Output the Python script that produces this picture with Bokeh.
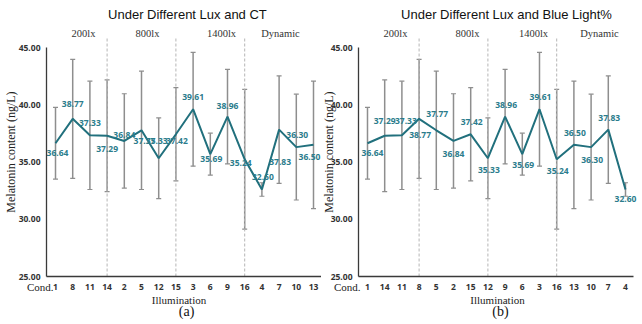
import math
from bokeh.plotting import figure
from bokeh.models import ColumnDataSource, Whisker, TeeHead, FixedTicker, NumeralTickFormatter, LinearAxis
from bokeh.layouts import row
from bokeh.embed import file_html
from bokeh.resources import INLINE
from bokeh.core.properties import value

# ---------------- data ----------------
# mean melatonin content and SD, indexed by condition number 1..16
cond_numbers = list(range(1, 17))
mean_by_cond = [36.64, 36.84, 39.61, 32.60, 37.77, 35.69, 37.83, 38.77,
                38.96, 36.30, 37.33, 35.33, 36.50, 37.29, 37.42, 35.24]
sd_by_cond = [3.13, 4.12, 4.97, 0.59, 5.17, 1.83, 4.69, 5.20,
              4.13, 4.62, 4.73, 3.52, 5.57, 4.88, 4.07, 6.11]
order_a = [1, 8, 11, 14, 2, 5, 12, 15, 3, 6, 9, 16, 4, 7, 10, 13]
order_b = [1, 14, 11, 8, 5, 2, 15, 12, 9, 6, 3, 16, 13, 10, 7, 4]
group_labels = ["200lx", "800lx", "1400lx", "Dynamic"]
group_breaks = [4, 8, 12]
y_ticks = [25, 30, 35, 40, 45]

# ---------------- styling / layout ----------------
LINE_C = "#21707d"
LAB_C = "#2b7c8c"
ERR_C = "#8e8e8e"
AXIS_C = "#3a3a3a"
H = 322
Y0, Y1 = 20.983, 49.105
SERIF = value("Liberation Serif")

# label offsets (screen px) per plotted position
dy_a = [10, -15, -12, 13, -6, 11, -17, 7, -12, 5, -11, 4, -12, 32, -12, 12]
dx_a = [2, 0, 0, 0, 0, 3, -2, 1, 0, 1, 0, -4, 1, 1, 1, -4]
dy_b = [10, -15, -14, 16, -16, 13, -12, 12, -12, 11, -12, 12, -12, 13, -12, 10]
dx_b = [5, 0, 4, 1, 1, 0, 1, 1, 1, 1, 1, 1, 1, 1, 1, 0]


def make_panel(order, title, tag, x_start, x_end, width, dy, dx,
               group_x, title_x, illum_x, tag_x, cond_x, ylab_x):
    pos = list(range(1, len(order) + 1))
    means = [mean_by_cond[c - 1] for c in order]
    sds = [sd_by_cond[c - 1] for c in order]
    src = ColumnDataSource(dict(
        x=pos, y=means,
        up=[m + s for m, s in zip(means, sds)],
        lo=[m - s for m, s in zip(means, sds)],
        lab=["%.2f" % m for m in means],
        dx=dx, dy=dy))

    p = figure(width=width, height=H, x_range=(x_start, x_end), y_range=(Y0, Y1),
               output_backend="svg", toolbar_location=None,
               x_axis_location=None, y_axis_location=None,
               min_border=0, min_border_left=0, min_border_right=0,
               min_border_top=0, min_border_bottom=0)
    p.outline_line_color = None
    p.xgrid.visible = False
    p.ygrid.visible = False
    p.background_fill_color = "white"
    p.border_fill_color = "white"

    ax0 = 0.477  # where the y axis sits (just left of the first condition)
    ax_end = 16.47

    # separators
    p.segment(x0=group_breaks, y0=[25] * 3, x1=group_breaks, y1=[45.79] * 3,
              line_color="#b5b5b5", line_width=1, line_dash="3 2")

    # error bars
    w = Whisker(base="x", upper="up", lower="lo", source=src,
                line_color=ERR_C, line_width=1.5,
                upper_head=TeeHead(size=5, line_color=ERR_C, line_width=1.2),
                lower_head=TeeHead(size=5, line_color=ERR_C, line_width=1.2))
    w.level = "underlay"
    p.add_layout(w)

    p.line("x", "y", source=src, line_color=LINE_C, line_width=2)
    p.text(x="x", y="y", text="lab", x_offset="dx", y_offset="dy", source=src,
           text_align="center", text_baseline="middle",
           text_font=value("Open Sans"), text_font_style="bold",
           text_font_size="8.5px", text_color=LAB_C)

    # axes
    xa = LinearAxis(fixed_location=25, ticker=FixedTicker(ticks=pos),
                    bounds=(ax0, ax_end))
    xa.major_label_overrides = {i: str(c) for i, c in zip(pos, order)}
    ya = LinearAxis(fixed_location=ax0, ticker=FixedTicker(ticks=y_ticks),
                    bounds=(25, 45), formatter=NumeralTickFormatter(format="0.00"))
    for ax in (xa, ya):
        ax.axis_line_color = AXIS_C
        ax.axis_line_width = 1.3
        ax.major_tick_out = 0
        ax.major_tick_in = 0
        ax.minor_tick_out = 0
        ax.minor_tick_in = 0
        ax.major_label_text_font = "Open Sans"
        ax.major_label_text_font_style = "bold"
        ax.major_label_text_font_size = "8.5px"
        ax.major_label_text_color = "#333333"
    ya.major_label_standoff = 6
    xa.major_label_standoff = 7
    p.add_layout(xa, "below")
    p.add_layout(ya, "left")

    # texts
    p.text(x=[title_x], y=[47.88], text=[title], text_align="center",
           text_baseline="middle", text_font=value("Liberation Sans"),
           text_font_size="13px", text_color="#111111")
    p.text(x=group_x, y=[46.22] * 4, text=group_labels, text_align="center",
           text_baseline="middle", text_font=SERIF,
           text_font_size="10.5px", text_color="#333333")
    p.text(x=[cond_x], y=[24.04], text=["Cond."], text_align="right",
           text_baseline="middle", text_font=SERIF,
           text_font_size="11px", text_color="#222222")
    p.text(x=[illum_x], y=[22.99], text=["Illumination"], text_align="center",
           text_baseline="middle", text_font=SERIF,
           text_font_size="11px", text_color="#222222")
    p.text(x=[tag_x], y=[21.94], text=[tag], text_align="center",
           text_baseline="middle", text_font=SERIF,
           text_font_size="14px", text_color="#111111")
    p.text(x=[ylab_x], y=[35.87], text=["Melatonin content (ng/L)"],
           angle=math.pi / 2, text_align="center", text_baseline="middle",
           text_font=SERIF, text_font_size="12px", text_color="#222222")
    return p


pa = make_panel(order_a, "Under Different Lux and CT", "(a)", -2.198, 16.465, 321,
                dy_a, dx_a, [2.63, 6.35, 10.65, 14.08], 8.67, 8.18, 8.62, 0.884, -1.616)
pb = make_panel(order_b, "Under Different Lux and Blue Light%", "(b)", -1.674, 16.872, 319,
                dy_b, dx_b, [2.63, 6.81, 10.65, 14.49], 9.08, 8.56, 8.73, 0.593, -1.267)

layout = row(pa, pb, spacing=0)
open("out.html", "w").write(file_html(layout, INLINE))
